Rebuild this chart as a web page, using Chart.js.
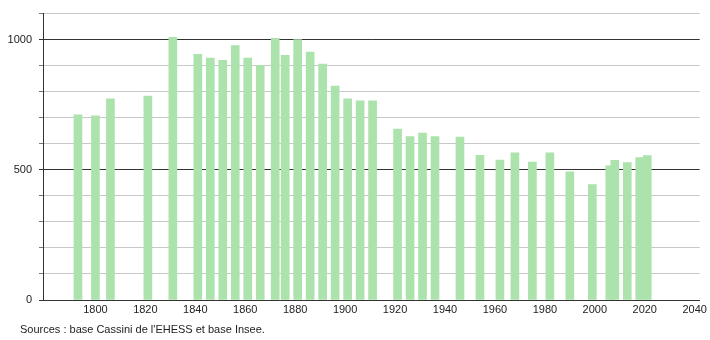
<!DOCTYPE html>
<html>
<head>
<meta charset="utf-8">
<script src="https://cdn.jsdelivr.net/npm/chart.js@4"></script>
<style>
  html, body { margin: 0; padding: 0; background: #fff; }
  #wrap { position: relative; width: 710px; height: 340px; }
  #source { position: absolute; left: 20px; top: 323px; font: 11px "Liberation Sans", Arial, sans-serif; color: #222; white-space: nowrap; }
</style>
</head>
<body>
<div id="wrap">
  <canvas id="c" width="710" height="340"></canvas>
  <div id="source">Sources : base Cassini de l'EHESS et base Insee.</div>
</div>
<script>
const years = [1793,1800,1806,1821,1831,1841,1846,1851,1856,1861,1866,1872,1876,1881,1886,1891,1896,1901,1906,1911,1921,1926,1931,1936,1946,1954,1962,1968,1975,1982,1990,1999,2006,2008,2013,2018,2021];
const population = [711,707,773,783,1009,944,929,921,977,929,901,1005,940,1000,952,906,822,773,765,765,656,628,641,628,626,556,537,565,530,565,492,443,515,536,528,547,555];
const yLabelValues = [0, 500, 1000];
const xFirstLabel = 1800;

const points = years.map((yr, i) => ({ x: yr, y: population[i] }));

new Chart(document.getElementById('c'), {
  type: 'bar',
  data: {
    datasets: [{
      data: points,
      backgroundColor: 'rgb(172,226,172)',
      borderWidth: 0,
      barThickness: 8
    }]
  },
  options: {
    responsive: false,
    animation: false,
    events: [],
    layout: { padding: { left: 0, right: 10, top: 10, bottom: 0 } },
    plugins: { legend: { display: false }, tooltip: { enabled: false } },
    scales: {
      x: {
        type: 'linear',
        offset: false,
        min: 1779,
        max: 2042,
        afterFit: s => { s.height = 40; },
        grid: { display: false, drawTicks: false, offset: false },
        border: { display: true, color: '#333', width: 1 },
        ticks: {
          stepSize: 20,
          includeBounds: false,
          padding: 3,
          maxRotation: 0,
          autoSkip: false,
          color: '#222',
          font: { family: '"Liberation Sans", Arial, sans-serif', size: 11 },
          callback: v => (v % 20 === 0 && v >= xFirstLabel ? String(v) : '')
        }
      },
      y: {
        min: 0,
        max: 1100,
        afterFit: s => { s.width = 43; },
        border: { display: true, color: '#333', width: 1 },
        grid: {
          drawTicks: true,
          tickLength: 4,
          color: ctx => (ctx.tick && ctx.tick.value % 500 === 0 && ctx.tick.value <= 1000 ? '#333' : '#c8c8c8'),
          tickColor: ctx => (ctx.tick && ctx.tick.value % 500 === 0 && ctx.tick.value <= 1000 ? '#333' : '#777'),
          lineWidth: 1
        },
        ticks: {
          stepSize: 100,
          padding: 7,
          color: '#222',
          font: { family: '"Liberation Sans", Arial, sans-serif', size: 11 },
          callback: v => (yLabelValues.includes(v) ? String(v) : '')
        }
      }
    }
  }
});
</script>
</body>
</html>
